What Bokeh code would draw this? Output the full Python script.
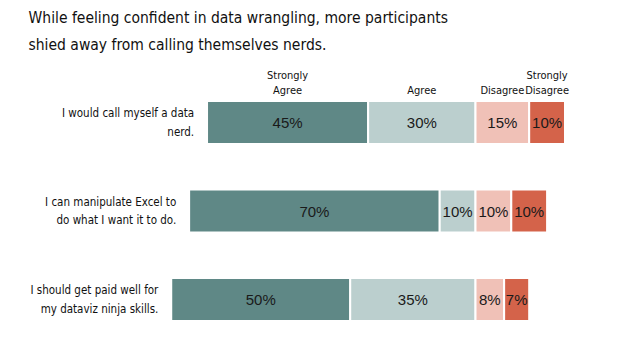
from bokeh.plotting import figure
from bokeh.models import Range1d, ColumnDataSource, Label
from bokeh.core.properties import value
from bokeh.embed import file_html
from bokeh.resources import INLINE

statements = ["I would call myself a data\nnerd.",
              "I can manipulate Excel to\ndo what I want it to do.",
              "I should get paid well for\nmy dataviz ninja skills."]
levels = ["Strongly\nAgree", "Agree", "Disagree", "Strongly\nDisagree"]
strongly_agree = [45, 70, 50]
agree = [30, 10, 35]
disagree = [15, 10, 8]
strongly_disagree = [10, 10, 7]
colors = ["#5F8886", "#BBCFCE", "#F0C1B7", "#D4634A"]

TITLE = "While feeling confident in data wrangling, more participants\nshied away from calling themselves nerds."
NARROW = "DejaVu Sans Condensed"

p = figure(width=635, height=350, output_backend="svg", toolbar_location=None,
           x_range=Range1d(-132.7, 44.7), y_range=Range1d(2.576, -1.379),
           min_border=0, outline_line_color=None)
p.xaxis.visible = False
p.yaxis.visible = False
p.xgrid.visible = False
p.ygrid.visible = False

series = [strongly_agree, agree, disagree, strongly_disagree]
rows = list(range(len(statements)))
# diverging: agree side to the left of 0, disagree side to the right
lefts = [[-(sa + a) for sa, a in zip(strongly_agree, agree)],
         [-a for a in agree],
         [0] * len(rows),
         list(disagree)]
H = 0.486
for k, vals in enumerate(series):
    left = lefts[k]
    right = [l + v for l, v in zip(left, vals)]
    src = ColumnDataSource(dict(y=rows, left=left, right=right,
                                mid=[(l + r) / 2 for l, r in zip(left, right)],
                                lab=[f"{v}%" for v in vals]))
    p.hbar(y="y", left="left", right="right", height=H, source=src,
           fill_color=colors[k], line_color="white", line_width=2)
    p.text(x="mid", y="y", text="lab", source=src, text_align="center",
           text_baseline="middle", text_font=value("Liberation Sans"),
           text_font_size="15px", text_color="#1a1a1a")
    # header above first row
    p.text(x=[src.data["mid"][0]], y=[-H / 2 - 0.04], text=[levels[k]],
           text_align="center", text_baseline="bottom", text_font=value(NARROW),
           text_font_size="11px", text_color="#111111",
           text_line_height=1.2)

# statement labels, right aligned to each bar's start
starts = [-(sa + a) for sa, a in zip(strongly_agree, agree)]
p.text(x=[s - 3.6 for s in starts], y=rows, text=statements, text_align="right",
       text_baseline="middle", text_font=value(NARROW), text_font_size="11.5px",
       text_color="#111111", text_line_height=1.35)

title = Label(x=28, y=350 - 8, x_units="screen", y_units="screen", text=TITLE,
              text_font=NARROW, text_font_size="15.5px",
              text_color="#111111", text_baseline="top", text_line_height=1.5)
p.add_layout(title)

open("out.html", "w").write(file_html(p, INLINE))
